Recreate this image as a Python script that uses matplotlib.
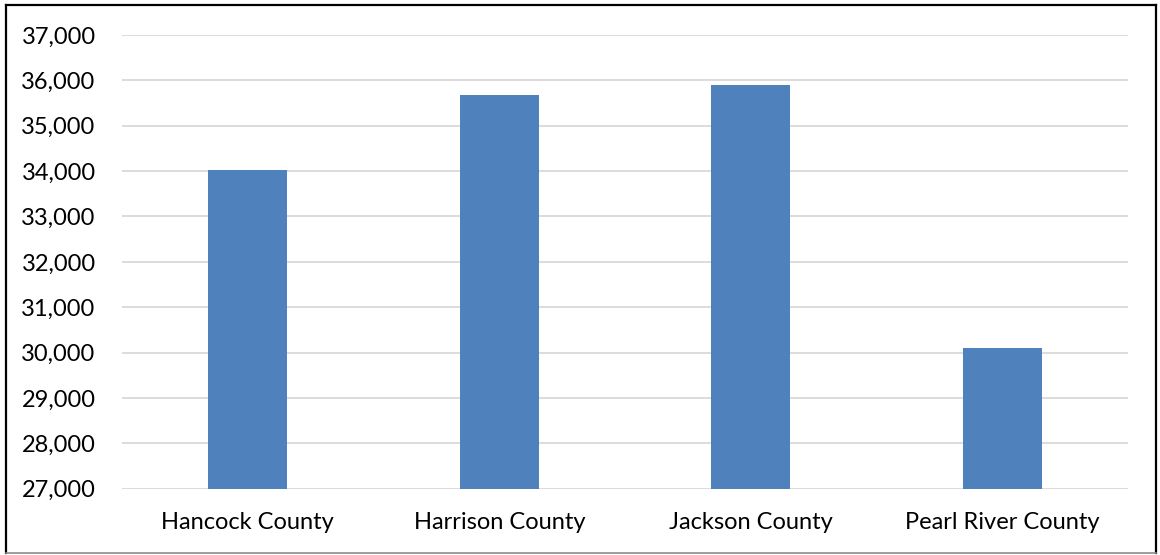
import matplotlib
matplotlib.use("Agg")
import matplotlib.pyplot as plt
from matplotlib.ticker import FuncFormatter, MultipleLocator
from matplotlib.lines import Line2D

counties = ["Hancock County", "Harrison County", "Jackson County", "Pearl River County"]
values = [34020, 35670, 35890, 30110]
y_min, y_max, y_step = 27000, 37000, 1000

W, H = 1160, 555
fig = plt.figure(figsize=(W / 100, H / 100), dpi=100)
plt.rcParams['font.family'] = ['Lato', 'DejaVu Sans']

ax = fig.add_axes([122 / W, 1 - 488.7 / H, (1128 - 122) / W, (488.7 - 35) / H])
x = range(len(counties))
ax.bar(x, values, width=0.314, color="#4F81BD", zorder=3)
ax.set_ylim(y_min, y_max)
ax.set_xlim(-0.5, len(counties) - 0.5)
ax.yaxis.set_major_locator(MultipleLocator(y_step))
ax.yaxis.set_major_formatter(FuncFormatter(lambda v, p: f"{int(v):,}"))
ax.set_xticks(list(x))
ax.set_xticklabels(counties)
ax.grid(axis="y", color="#D9D9D9", linewidth=1.3, zorder=0)
ax.tick_params(axis="both", length=0, labelsize=17, colors="black")
ax.tick_params(axis="y", pad=19)
ax.tick_params(axis="x", pad=17)
for s in ax.spines.values():
    s.set_visible(False)

# outer border
fig.add_artist(Line2D([6 / W, 6 / W], [1 - 5 / H, 1 - 553 / H], color="black", lw=1.6, transform=fig.transFigure))
fig.add_artist(Line2D([6 / W, 1155.5 / W], [1 - 5 / H, 1 - 5 / H], color="black", lw=1.6, transform=fig.transFigure))
fig.add_artist(Line2D([1155.5 / W, 1155.5 / W], [1 - 5 / H, 1 - 553 / H], color="black", lw=1.6, transform=fig.transFigure))
fig.add_artist(Line2D([6 / W, 1155.5 / W], [1 - 553 / H, 1 - 553 / H], color="#8C8C8C", lw=1.2, transform=fig.transFigure))

fig.savefig("out.png", dpi=100)
